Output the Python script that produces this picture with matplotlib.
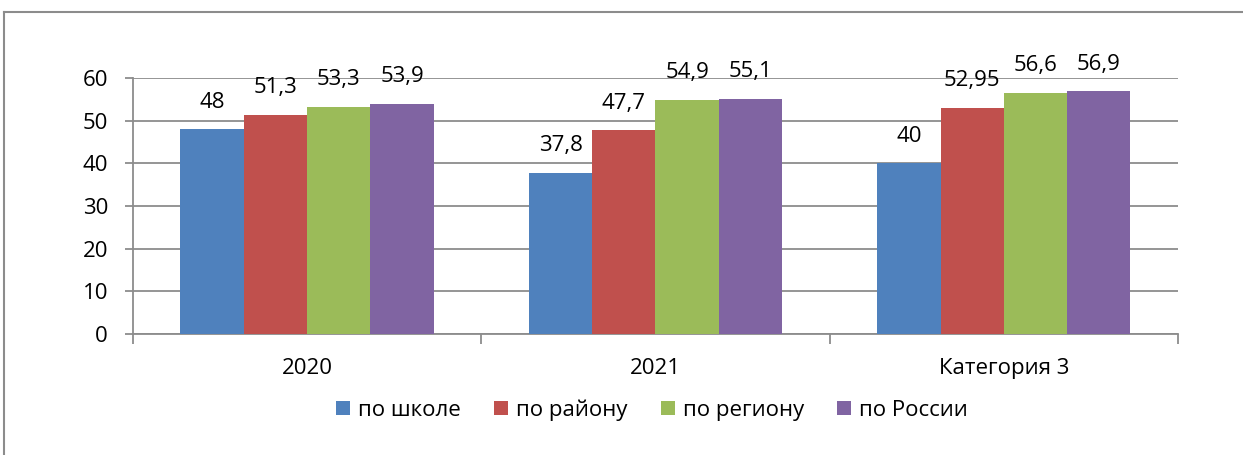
import numpy as np
import matplotlib.pyplot as plt
from matplotlib.lines import Line2D

plt.rcParams['font.family'] = ['Open Sans', 'DejaVu Sans']

categories = ['2020', '2021', 'Категория 3']
series = ['по школе', 'по району', 'по региону', 'по России']
school = [48, 37.8, 40]
district = [51.3, 47.7, 52.95]
region = [53.3, 54.9, 56.6]
russia = [53.9, 55.1, 56.9]
colors = ['#4F81BD', '#C0504D', '#9BBB59', '#8064A2']

values = [school, district, region, russia]
grid_c = '#8c8c8c'
fs = 16

fig = plt.figure(figsize=(12.43, 4.55), dpi=100)
ax = fig.add_axes([133/1243, 1 - 334/455, (1178-133)/1243, (334-78)/455])

x = np.arange(len(categories))
w = 1 / 5.5
for i, (vals, name) in enumerate(zip(values, series)):
    bars = ax.bar(x + (i - 1.5) * w, vals, w, color=colors[i], label=name, zorder=3)
    labels = [f'{v:g}'.replace('.', ',') for v in vals]
    ax.bar_label(bars, labels=labels, padding=12, fontsize=fs)

ax.set_xlim(-0.5, 2.5)
ax.set_ylim(0, 60)
ax.set_yticks(range(0, 61, 10))
ax.yaxis.grid(True, color=grid_c, linewidth=1.3, zorder=0)
ax.tick_params(axis='y', length=6, width=1.3, color=grid_c, labelsize=fs, pad=12)

ax.set_xticks(x)
ax.set_xticklabels(categories)
ax.set_xticks([-0.5, 0.5, 1.5, 2.5], minor=True)
ax.tick_params(axis='x', which='major', length=0, labelsize=fs, pad=17)
ax.tick_params(axis='x', which='minor', length=7, width=1.3, color=grid_c)

for s in ['top', 'right']:
    ax.spines[s].set_visible(False)
for s in ['left', 'bottom']:
    ax.spines[s].set_color(grid_c)
    ax.spines[s].set_linewidth(1.3)

handles, labs = ax.get_legend_handles_labels()
fig.legend(handles, labs, loc='center', bbox_to_anchor=(652/1243, 1 - 410/455),
           ncol=4, frameon=False, fontsize=fs, handlelength=0.63, handleheight=0.63,
           handletextpad=0.36, columnspacing=1.5, borderpad=0)

# outer border (top and left edges visible)
fig.add_artist(Line2D([4/1243, 4/1243], [0, 1 - 12/455], transform=fig.transFigure,
                      color='#8c8c8c', linewidth=1.5))
fig.add_artist(Line2D([4/1243, 1], [1 - 12/455, 1 - 12/455], transform=fig.transFigure,
                      color='#8c8c8c', linewidth=1.5))

fig.savefig('out.png', dpi=100)
